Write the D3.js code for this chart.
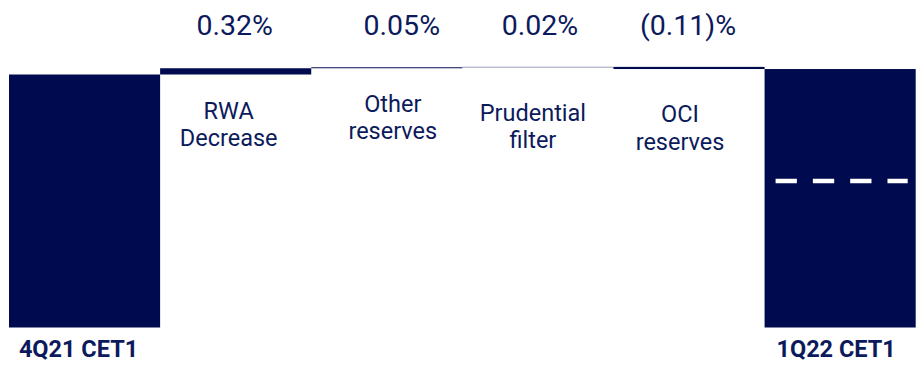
<!DOCTYPE html>
<html>
<head>
<meta charset="utf-8">
<script src="https://cdn.jsdelivr.net/npm/d3@7"></script>
<style>
  html, body { margin: 0; padding: 0; background: #fff; }
  svg { display: block; font-family: Roboto, "Noto Sans", sans-serif; }
</style>
</head>
<body>
<svg id="chart" width="917" height="368"></svg>
<script>
// CET1 ratio bridge, 4Q21 -> 1Q22 (percent)
const categories = ["4Q21 CET1", "RWA Decrease", "Other reserves", "Prudential filter", "OCI reserves", "1Q22 CET1"];
const kinds      = ["total", "delta", "delta", "delta", "delta", "total"];
const startValue = 12.95;
const deltas     = [0.32, 0.05, 0.02, -0.11];
const valueLabels = ["", "0.32%", "0.05%", "0.02%", "(0.11)%", ""];
const categoryLines = [["4Q21 CET1"], ["RWA", "Decrease"], ["Other", "reserves"], ["Prudential", "filter"], ["OCI", "reserves"], ["1Q22 CET1"]];
const thresholdValue = 7.5;

// Per-label placement tweaks (pixels)
const valueLabelNudge = [0, -1, 15, 2, -1, 0];
const catLabelNudge   = [[-6, 0], [-7, 1.5], [6, -5.5], [-5, 3.5], [-9, 5], [-4, 0]];

const navy = "#000a4f";
const textColor = "#0c1a5c";

// Build running totals
const rows = [];
let running = startValue;
categories.forEach((c, i) => {
  if (kinds[i] === "total") {
    if (i > 0) running = startValue + d3.sum(deltas);
    rows.push({ cat: c, y0: 0, y1: running, i });
  } else {
    const d = deltas[i - 1];
    rows.push({ cat: c, y0: running, y1: running + d, i });
    running += d;
  }
});

const x = d3.scaleBand().domain(categories).range([9, 915.7]).paddingInner(0).paddingOuter(0);
const y = d3.scaleLinear().domain([0, 12.95]).range([327.5, 74.5]);

const svg = d3.select("#chart");

// Bars
svg.append("g").selectAll("rect").data(rows).join("rect")
  .attr("x", d => x(d.cat))
  .attr("width", x.bandwidth())
  .attr("y", d => y(Math.max(d.y0, d.y1)))
  .attr("height", d => Math.abs(y(d.y0) - y(d.y1)))
  .attr("fill", navy);

// Dashed reference level inside the closing bar
const last = categories[categories.length - 1];
svg.append("line")
  .attr("x1", x(last) + 11)
  .attr("x2", x(last) + x.bandwidth() - 8)
  .attr("y1", y(thresholdValue))
  .attr("y2", y(thresholdValue))
  .attr("stroke", "#ffffff")
  .attr("stroke-width", 4.5)
  .attr("stroke-dasharray", "21.3,16");

// Value labels above the step bars
svg.append("g").selectAll("text").data(rows.filter(d => valueLabels[d.i]))
  .join("text")
  .attr("x", d => x(d.cat) + x.bandwidth() / 2 + valueLabelNudge[d.i])
  .attr("y", 34.8)
  .attr("text-anchor", "middle")
  .attr("font-size", 28.5)
  .attr("fill", textColor)
  .text(d => valueLabels[d.i]);

// Category labels under the step bars
const stepLabels = svg.append("g").selectAll("text")
  .data(rows.filter(d => kinds[d.i] === "delta"))
  .join("text")
  .attr("text-anchor", "middle")
  .attr("font-size", 23.5)
  .attr("fill", textColor)
  .attr("transform", d => `translate(${x(d.cat) + x.bandwidth() / 2 + catLabelNudge[d.i][0]},${117 + catLabelNudge[d.i][1]})`);
stepLabels.selectAll("tspan").data(d => categoryLines[d.i]).join("tspan")
  .attr("x", 0)
  .attr("dy", (t, j) => j === 0 ? 0 : 27.5)
  .text(t => t);

// Axis labels for the opening and closing totals
svg.append("g").selectAll("text")
  .data(rows.filter(d => kinds[d.i] === "total"))
  .join("text")
  .attr("x", d => x(d.cat) + x.bandwidth() / 2 + catLabelNudge[d.i][0])
  .attr("y", 356.7)
  .attr("text-anchor", "middle")
  .attr("font-size", 23.5)
  .attr("font-weight", "bold")
  .attr("fill", textColor)
  .text(d => d.cat);
</script>
</body>
</html>
